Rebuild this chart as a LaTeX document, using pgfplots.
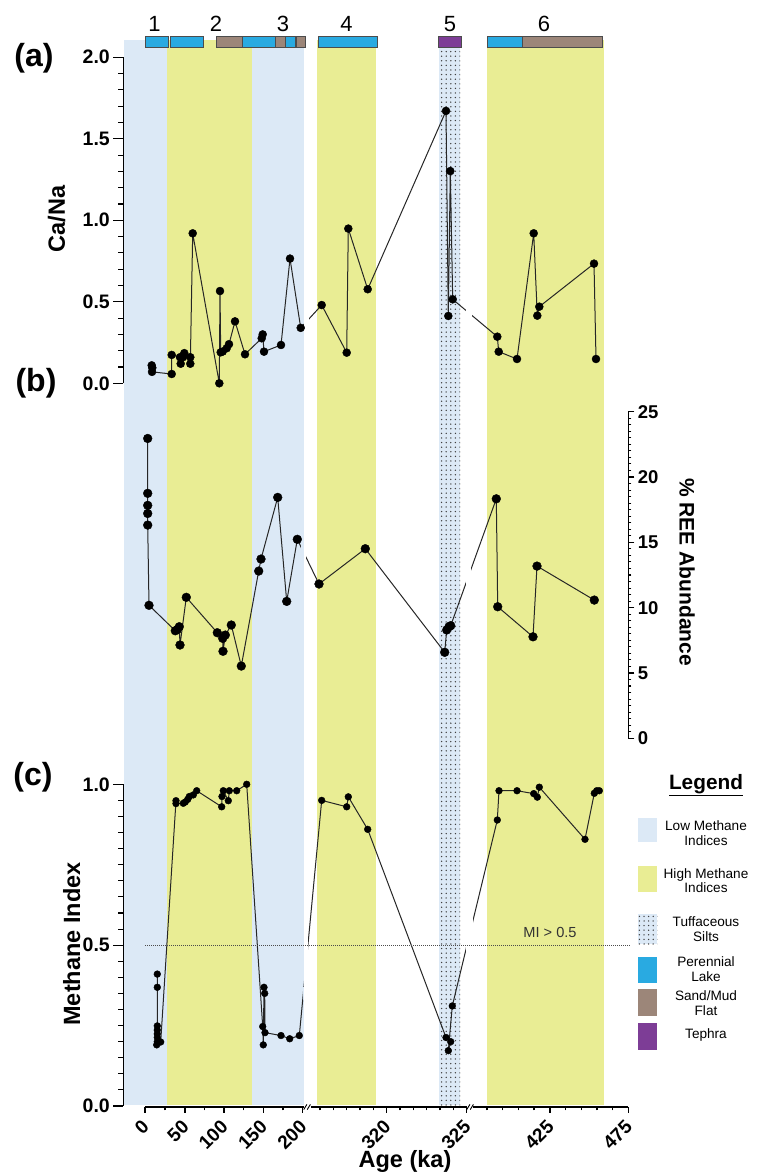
\documentclass[border=0pt]{standalone}
\usepackage{pgfplots}
\usepackage{pgfplotstable}
\pgfplotsset{compat=1.18}
\usepackage{fontspec}
\setmainfont{Liberation Sans}
\usetikzlibrary{patterns.meta}

\definecolor{lowblue}{RGB}{220,233,246}
\definecolor{highyel}{RGB}{233,237,148}
\definecolor{lake}{RGB}{41,170,225}
\definecolor{sand}{RGB}{156,134,121}
\definecolor{tephra}{RGB}{125,61,150}

\tikzset{dotpat/.style={pattern={Dots[distance=4.6pt,radius=0.75pt]},pattern color=black!75}}

\pgfplotsset{
 panel/.style={scale only axis, width=505pt, xmin=123.3, xmax=628.3, clip=false, anchor=south west,
   axis line style={-, line width=1.2pt, black}, tick align=outside,
   tick style={black, line width=1.1pt}, major tick length=10pt, minor tick length=5pt,
   ticklabel style={font=\fontsize{19.5}{19.5}\selectfont\bfseries}},
 dataline/.style={black!85, line width=1pt, no markers},
 datamark/.style={only marks, mark=*, mark size=#1, mark options={fill=black, draw=black}},
}

% x = horizontal plot position (pixel column of the reference), y = value
\pgfplotstableread{
x y
151.7 0.110
152.3 0.095
152.0 0.070
171.7 0.057
171.7 0.174
180.0 0.160
180.7 0.120
183.0 0.160
184.3 0.185
190.3 0.160
190.3 0.120
192.7 0.920
219.3 0.000
220.0 0.566
220.7 0.190
222.7 0.195
226.7 0.215
229.0 0.240
235.0 0.380
245.0 0.178
261.7 0.276
262.7 0.300
264.0 0.194
281.0 0.235
290.0 0.765
300.7 0.340
321.7 0.480
346.7 0.188
348.3 0.949
367.7 0.577
446.0 1.671
448.3 0.413
450.3 1.302
452.7 0.515
497.3 0.286
498.7 0.194
517.0 0.149
533.7 0.920
537.3 0.415
539.3 0.470
594.0 0.734
596.0 0.149
}\canaTable

\pgfplotstableread{
x y
147.7 22.95
147.7 18.75
147.7 17.83
147.7 17.21
147.7 16.32
149.0 10.18
175.3 8.23
177.3 8.33
179.3 8.54
180.0 7.14
186.3 10.79
217.3 8.08
222.7 7.65
223.0 6.66
225.3 7.90
231.3 8.67
241.3 5.53
258.7 12.80
261.0 13.72
277.7 18.44
286.7 10.48
297.3 15.23
319.0 11.81
365.3 14.51
444.7 6.58
446.7 8.29
449.0 8.54
450.7 8.62
496.3 18.33
497.7 10.07
533.0 7.77
537.0 13.18
594.3 10.58
}\reeTable

\pgfplotstableread{
x y
157.3 0.410
157.3 0.369
157.3 0.249
157.3 0.236
157.3 0.224
157.3 0.213
157.3 0.200
156.7 0.190
160.7 0.199
176.0 0.949
176.0 0.940
183.3 0.941
185.3 0.945
187.7 0.953
189.3 0.962
193.3 0.967
196.7 0.980
221.7 0.930
222.0 0.962
223.3 0.980
228.3 0.949
229.3 0.980
236.7 0.980
246.7 1.000
262.7 0.247
263.3 0.190
264.0 0.369
264.7 0.350
265.0 0.228
281.0 0.219
289.7 0.209
299.3 0.219
321.7 0.950
346.7 0.930
348.3 0.961
367.7 0.860
446.0 0.213
450.7 0.200
448.3 0.172
452.3 0.311
497.3 0.889
499.0 0.980
517.0 0.980
533.7 0.971
537.3 0.960
539.3 0.991
585.0 0.829
594.3 0.972
596.7 0.980
599.3 0.980
}\miTable

\begin{document}
\begin{tikzpicture}
% ---------- background: bands, lithology bars, texts, legend ----------
\begin{axis}[at={(0pt,0pt)},anchor=south west,scale only axis,width=756pt,height=1174pt,
  xmin=0,xmax=756,ymin=0,ymax=1174,y dir=reverse,hide axis,clip=false]
\fill[lowblue] (axis cs:124.3,40) rectangle (axis cs:167.1,1105);
\fill[highyel] (axis cs:167.1,40) rectangle (axis cs:251.8,1105);
\fill[lowblue] (axis cs:251.8,40) rectangle (axis cs:304.3,1105);
\fill[highyel] (axis cs:317.1,40) rectangle (axis cs:376.1,1105);
\fill[lowblue] (axis cs:438.6,40) rectangle (axis cs:460,1105);
\fill[dotpat] (axis cs:438.6,40) rectangle (axis cs:460,1105);
\fill[highyel] (axis cs:486.8,40) rectangle (axis cs:603.6,1105);
% lithology bars
\filldraw[fill=lake,draw=black!70,line width=0.5pt] (axis cs:145.7,36.5) rectangle (axis cs:167.9,47);
\filldraw[fill=lake,draw=black!70,line width=0.5pt] (axis cs:170.4,36.5) rectangle (axis cs:203.6,47);
\filldraw[fill=sand,draw=black!70,line width=0.5pt] (axis cs:216,36.5) rectangle (axis cs:242.1,47);
\filldraw[fill=lake,draw=black!70,line width=0.5pt] (axis cs:242.1,36.5) rectangle (axis cs:275,47);
\filldraw[fill=sand,draw=black!70,line width=0.5pt] (axis cs:275,36.5) rectangle (axis cs:285.7,47);
\filldraw[fill=lake,draw=black!70,line width=0.5pt] (axis cs:285.7,36.5) rectangle (axis cs:295.4,47);
\filldraw[fill=sand,draw=black!70,line width=0.5pt] (axis cs:296.4,36.5) rectangle (axis cs:305.4,47);
\filldraw[fill=lake,draw=black!70,line width=0.5pt] (axis cs:317.9,36.5) rectangle (axis cs:376.8,47);
\filldraw[fill=tephra,draw=black!70,line width=0.5pt] (axis cs:438.6,36.5) rectangle (axis cs:461.4,47);
\filldraw[fill=lake,draw=black!70,line width=0.5pt] (axis cs:486.8,36.5) rectangle (axis cs:522.5,47);
\filldraw[fill=sand,draw=black!70,line width=0.5pt] (axis cs:522.5,36.5) rectangle (axis cs:602.5,47);
% numbers on top
\node[font=\fontsize{22}{22}\selectfont] at (axis cs:154.6,24) {1};
\node[font=\fontsize{22}{22}\selectfont] at (axis cs:216.1,24) {2};
\node[font=\fontsize{22}{22}\selectfont] at (axis cs:282.9,24) {3};
\node[font=\fontsize{22}{22}\selectfont] at (axis cs:346.4,24) {4};
\node[font=\fontsize{22}{22}\selectfont] at (axis cs:450,24) {5};
\node[font=\fontsize{22}{22}\selectfont] at (axis cs:543.9,24) {6};
% panel letters
\node[font=\fontsize{32}{32}\selectfont\bfseries] at (axis cs:34,58.3) {(a)};
\node[font=\fontsize{32}{32}\selectfont\bfseries] at (axis cs:36,383) {(b)};
\node[font=\fontsize{32}{32}\selectfont\bfseries] at (axis cs:33,777) {(c)};
% axis titles
\node[rotate=90,font=\fontsize{23.5}{23.5}\selectfont\bfseries] at (axis cs:56.7,219) {Ca/Na};
\node[rotate=90,font=\fontsize{23.5}{23.5}\selectfont\bfseries] at (axis cs:71.7,944) {Methane Index};
\node[rotate=-90,font=\fontsize{21}{21}\selectfont\bfseries] at (axis cs:687,572) {\% REE Abundance};
\node[anchor=base,font=\fontsize{23.5}{23.5}\selectfont\bfseries] at (axis cs:405,1167) {Age (ka)};
% legend
\node[font=\fontsize{20.8}{22}\selectfont\bfseries] at (axis cs:706,785) {\underline{Legend}};
\fill[lowblue] (axis cs:638.3,818.3) rectangle (axis cs:657.3,841.7);
\fill[highyel] (axis cs:638.3,866) rectangle (axis cs:657.3,891.7);
\fill[lowblue] (axis cs:638.3,914) rectangle (axis cs:657.3,944);
\fill[dotpat] (axis cs:638.3,914) rectangle (axis cs:657.3,944);
\fill[lake] (axis cs:638.3,956.7) rectangle (axis cs:657.3,982.7);
\fill[sand] (axis cs:638.3,989.3) rectangle (axis cs:657.3,1016);
\fill[tephra] (axis cs:638.3,1023.3) rectangle (axis cs:657.3,1050);
\node[align=center,font=\fontsize{13.6}{14.3}\selectfont] at (axis cs:706,833) {Low Methane\\Indices};
\node[align=center,font=\fontsize{13.6}{14.3}\selectfont] at (axis cs:706,880.5) {High Methane\\Indices};
\node[align=center,font=\fontsize{13.6}{14.3}\selectfont] at (axis cs:706,929) {Tuffaceous\\Silts};
\node[align=center,font=\fontsize{13.6}{14.3}\selectfont] at (axis cs:706,969) {Perennial\\Lake};
\node[align=center,font=\fontsize{13.6}{14.3}\selectfont] at (axis cs:706,1003) {Sand/Mud\\Flat};
\node[align=center,font=\fontsize{13.6}{14.3}\selectfont] at (axis cs:706,1035) {Tephra};
\end{axis}

% ---------- (a) Ca/Na ----------
\begin{axis}[panel, at={(123.3pt,790.7pt)}, height=326pt, ymin=0, ymax=2,
  axis y line*=left, axis x line=none,
  ytick={0,0.5,1,1.5,2}, yticklabels={0.0,0.5,1.0,1.5,2.0}, minor tick num=4]
\addplot[dataline] table {\canaTable};
\fill[white] (axis cs:304.3,0.33) rectangle (axis cs:309,0.43);
\fill[white] (axis cs:465.7,0.38) rectangle (axis cs:471.7,0.49);
\addplot[datamark=4pt] table {\canaTable};
\end{axis}

% ---------- (b) % REE ----------
\begin{axis}[panel, at={(123.3pt,435.7pt)}, height=326.6pt, ymin=0, ymax=25,
  axis y line*=right, axis x line=none, major tick length=6pt, minor tick length=3pt,
  ticklabel style={font=\fontsize{18.5}{18.5}\selectfont\bfseries},
  ytick={0,5,10,15,20,25}, yticklabels={0,5,10,15,20,25}, minor tick num=9]
\addplot[dataline] table {\reeTable};
\fill[lowblue] (axis cs:300.5,13.9) rectangle (axis cs:304.3,14.9);
\fill[white] (axis cs:304.3,13.4) rectangle (axis cs:306,14.5);
\fill[white] (axis cs:466,11.5) rectangle (axis cs:470.7,13.3);
\addplot[datamark=4.4pt] table {\reeTable};
\end{axis}

% ---------- (c) Methane index ----------
\begin{axis}[panel, at={(123.3pt,68pt)}, height=321.7pt, ymin=0, ymax=1,
  axis y line*=left, axis x line=none,
  ytick={0,0.5,1}, yticklabels={0.0,0.5,1.0}, minor tick num=9]
\addplot[dataline] table {\miTable};
\fill[lowblue] (axis cs:303.3,0.33) rectangle (axis cs:304.3,0.37);
\fill[white] (axis cs:304.3,0.33) rectangle (axis cs:308.3,0.53);
\fill[white] (axis cs:465.7,0.46) rectangle (axis cs:472.7,0.6);
\draw[black!70, line width=0.6pt, dash pattern=on 0.7pt off 1.3pt] (axis cs:145,0.5) -- (axis cs:630,0.5);
\node[font=\fontsize{14.6}{14.6}\selectfont, text=black!80] at (axis cs:550,0.54) {MI > 0.5};
\addplot[datamark=3.4pt] table {\miTable};
\end{axis}

% ---------- broken x axis ----------
\begin{axis}[panel, at={(123.3pt,67pt)}, height=10pt, ymin=0, ymax=1,
  axis x line*=bottom, axis y line=none, x axis line style={draw=none},
  major tick length=6pt, minor tick length=3.5pt,
  xtick={145,185,224,263.3,302.7,386.7,466.7,550,628.3},
  xticklabels={0,50,100,150,200,320,325,425,475},
  minor xtick={165,204.5,243.7,283,320,333.3,346.7,360,373.3,400,413.3,426.7,440,453.3,487,502.7,518.3,534,565.7,581.3,597,612.7},
  xticklabel style={xshift=3pt, yshift=-8pt, rotate=45, anchor=east, font=\fontsize{19}{19}\selectfont\bfseries}]
\draw[line width=1.2pt] (axis cs:145,0) -- (axis cs:303.5,0);
\draw[line width=1.2pt] (axis cs:310.5,0) -- (axis cs:467,0);
\draw[line width=1.2pt] (axis cs:472.5,0) -- (axis cs:628.3,0);
\draw[line width=0.9pt] ([xshift=-1.6pt,yshift=-2.6pt]axis cs:305.3,0) -- ([xshift=1.6pt,yshift=2.6pt]axis cs:305.3,0);
\draw[line width=0.9pt] ([xshift=-1.6pt,yshift=-2.6pt]axis cs:308.8,0) -- ([xshift=1.6pt,yshift=2.6pt]axis cs:308.8,0);
\draw[line width=0.9pt] ([xshift=-1.6pt,yshift=-2.6pt]axis cs:468.3,0) -- ([xshift=1.6pt,yshift=2.6pt]axis cs:468.3,0);
\draw[line width=0.9pt] ([xshift=-1.6pt,yshift=-2.6pt]axis cs:471.8,0) -- ([xshift=1.6pt,yshift=2.6pt]axis cs:471.8,0);
\end{axis}

\pgfresetboundingbox
\path[use as bounding box] (0pt,0pt) rectangle (756pt,1174pt);
\end{tikzpicture}
\end{document}
